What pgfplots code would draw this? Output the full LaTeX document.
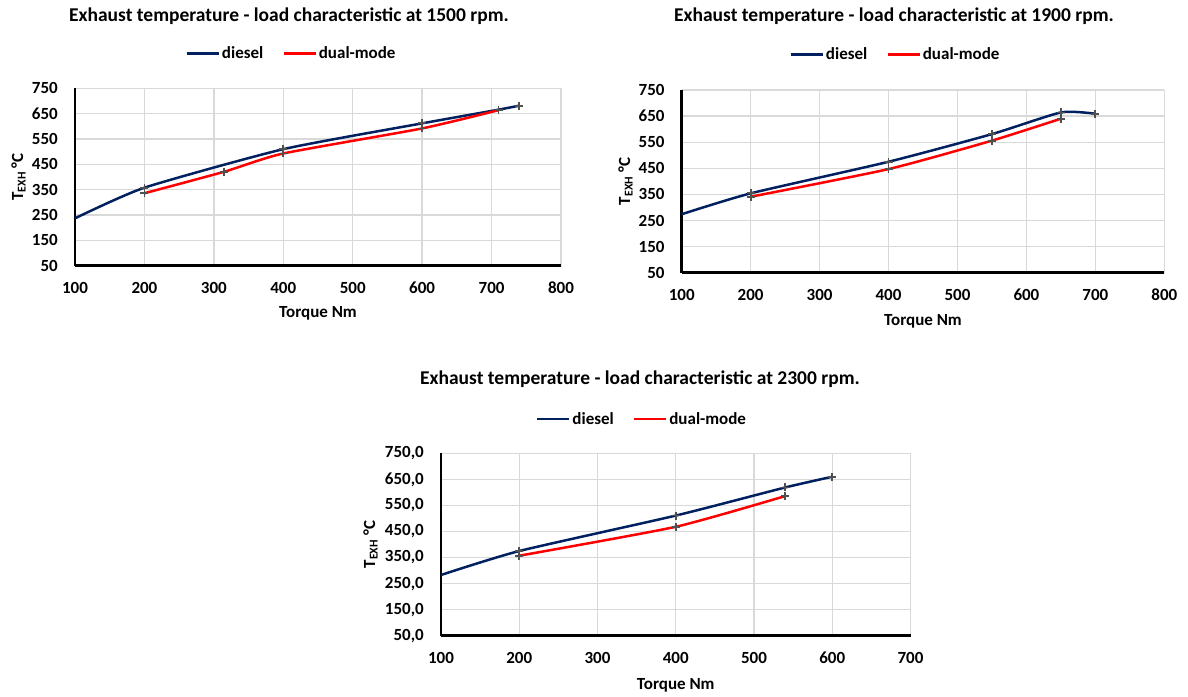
\documentclass[border=0pt]{standalone}
\usepackage{fontspec}
\setmainfont{Carlito}
\usepackage{pgfplots}
\pgfplotsset{compat=1.18}
\definecolor{dblue}{HTML}{002060}
\definecolor{gridgray}{HTML}{D9D9D9}
\definecolor{markgray}{HTML}{505050}
\pgfplotsset{
 excel/.style={
  scale only axis,
  axis x line*=bottom, axis y line*=left,
  axis line style={-, black, line width=2.5pt},
  every outer x axis line/.append style={-},
  every outer y axis line/.append style={-},
  grid=major, major grid style={gridgray, line width=1.3pt},
  major tick length=0pt,
  ymin=50, ymax=750, ytick={50,150,...,750},
  xmin=100,
  tick label style={font=\fontsize{17}{20}\selectfont\bfseries, inner sep=0pt},
  /pgf/number format/assume math mode=true,
  yticklabel style={xshift=-17pt},
  xticklabel style={yshift=-16pt},
  label style={font=\fontsize{17}{20}\selectfont\bfseries},
  title style={font=\fontsize{19.5}{23}\selectfont\bfseries, at={(0.5,1)}, anchor=center},
  legend style={draw=none, fill=none, font=\fontsize{17}{20}\selectfont\bfseries,
    legend columns=2, anchor=center, at={(0.5,1)},
    nodes={inner xsep=2pt},
    /tikz/every even column/.append style={column sep=17pt}},
  legend image code/.code={\draw[#1] (0pt,0pt) -- (32pt,0pt);},
  xlabel={Torque Nm},
  ylabel={T\textsubscript{EXH} °C},
  xlabel style={at={(0.5,0)}, anchor=center},
  ylabel style={anchor=center},
  clip=false,
 },
 diesel/.style={dblue, line width=2.5pt, smooth, tension=0.35, mark=+,
   mark options={markgray, line width=1.8pt, solid, mark size=4pt}},
 dual/.style={red, line width=2.5pt, smooth, tension=0.35, mark=+,
   mark options={markgray, line width=1.8pt, solid, mark size=4pt}},
}
\begin{document}
\begin{tikzpicture}[x=1pt,y=1pt]
\useasboundingbox (0,0) rectangle (1188,696);
% ---------- 1500 rpm
\begin{axis}[excel, at={(75pt,430.3pt)}, anchor=south west,
  width=486pt, height=177.3pt, xmax=800, xtick={100,200,...,800},
  title={Exhaust temperature - load characteristic at 1500 rpm.},
  title style={xshift=-29pt, yshift=66.7pt},
  legend style={xshift=-26.5pt, yshift=34.8pt},
  xlabel style={yshift=-47.3pt},
  ylabel style={at={(-0.1163,0.5)}}]
\addplot[diesel, mark indices={2,3,4,5,6}] coordinates {(100,237) (200,358) (400,510) (600,612) (710,666) (740,682)};
\addlegendentry{diesel}
\addplot[dual] coordinates {(200,336) (315,421) (400,493) (600,592) (710,664)};
\addlegendentry{dual-mode}
\end{axis}
% ---------- 1900 rpm
\begin{axis}[excel, at={(681.7pt,423.3pt)}, anchor=south west,
  width=482.6pt, height=182.7pt, xmax=800, xtick={100,200,...,800},
  title={Exhaust temperature - load characteristic at 1900 rpm.},
  title style={xshift=-29pt, yshift=68.3pt},
  legend style={xshift=-27.5pt, yshift=35.7pt},
  xlabel style={yshift=-49pt},
  ylabel style={at={(-0.1165,0.5)}}]
\addplot[diesel, mark indices={2,3,4,5,6}] coordinates {(100,274) (200,354) (400,475) (550,581) (650,664) (700,659)};
\addlegendentry{diesel}
\addplot[dual] coordinates {(200,341) (400,447) (550,556) (650,640)};
\addlegendentry{dual-mode}
\end{axis}
% ---------- 2300 rpm
\begin{axis}[excel, at={(441pt,60.3pt)}, anchor=south west,
  width=469.5pt, height=182.4pt, xmax=700, xtick={100,200,...,700},
  yticklabel style={/pgf/number format/.cd, fixed, fixed zerofill, precision=1, use comma},
  title={Exhaust temperature - load characteristic at 2300 rpm.},
  title style={xshift=-35.75pt, yshift=68pt},
  legend style={xshift=-33.75pt, yshift=34.3pt},
  xlabel style={yshift=-49.3pt},
  ylabel style={at={(-0.1502,0.5)}}]
\addplot[diesel, mark indices={2,3,4,5}] coordinates {(100,283) (200,375) (400,511) (540,619) (600,660)};
\addlegendentry{diesel}
\addplot[dual] coordinates {(200,357) (400,468) (540,586)};
\addlegendentry{dual-mode}
\end{axis}
\end{tikzpicture}
\end{document}
